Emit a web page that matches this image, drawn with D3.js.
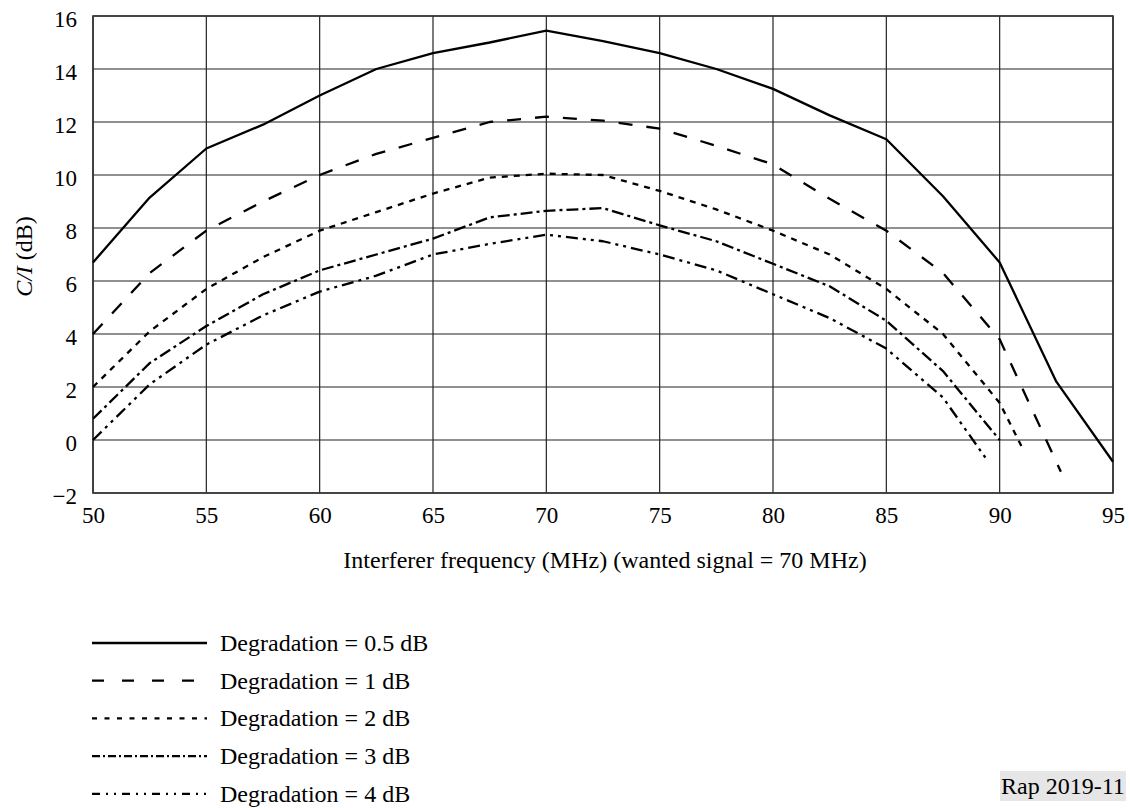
<!DOCTYPE html>
<html><head><meta charset="utf-8">
<script src="https://cdn.jsdelivr.net/npm/d3@7"></script>
<style>body{margin:0;background:#fff}svg{display:block}text{font-family:"Liberation Serif","Times New Roman",serif;fill:#000}</style>
</head><body><svg id="c" width="1130" height="808"></svg>
<script>
const xTicks = [50,55,60,65,70,75,80,85,90,95];
const yTicks = [-2,0,2,4,6,8,10,12,14,16];
const yTickLabels = ["\u22122","0","2","4","6","8","10","12","14","16"];
const freq = [50,52.5,55,57.5,60,62.5,65,67.5,70,72.5,75,77.5,80,82.5,85,87.5,90,92.5,95];
const deg05 = [6.7,9.15,11.0,11.9,13.0,14.0,14.6,15.0,15.45,15.05,14.6,14.0,13.25,12.25,11.35,9.2,6.7,2.2,-0.82];
const deg1x = [50,52.5,55,57.5,60,62.5,65,67.5,70,72.5,75,77.5,80,82.5,85,87.5,90,92.7];
const deg1 = [4.0,6.3,7.9,9.0,10.0,10.8,11.4,12.0,12.2,12.05,11.75,11.1,10.4,9.1,7.9,6.3,3.8,-1.2];
const deg2x = [50,52.5,55,57.5,60,62.5,65,67.5,70,72.5,75,77.5,80,82.5,85,87.5,90,91];
const deg2 = [2.0,4.1,5.7,6.9,7.9,8.6,9.3,9.9,10.05,10.0,9.4,8.7,7.9,7.0,5.7,4.0,1.4,-0.3];
const deg3x = [50,52.5,55,57.5,60,62.5,65,67.5,70,72.5,75,77.5,80,82.5,85,87.5,90];
const deg3 = [0.8,2.9,4.3,5.5,6.4,7.0,7.6,8.4,8.65,8.75,8.1,7.5,6.65,5.8,4.5,2.6,0.0];
const deg4x = [50,52.5,55,57.5,60,62.5,65,67.5,70,72.5,75,77.5,80,82.5,85,87.5,89.4];
const deg4 = [0.0,2.1,3.6,4.7,5.6,6.2,7.0,7.4,7.75,7.5,7.0,6.4,5.5,4.6,3.45,1.6,-0.7];
const seriesNames = ["Degradation = 0.5 dB","Degradation = 1 dB","Degradation = 2 dB","Degradation = 3 dB","Degradation = 4 dB"];

const dashes = [null,"14,14","6,6","12,4,3,4","12,5,3,5,3,5"];
const legendDashes = [null,"12,18","5,7.5","8,3,2,3","8,6,2,6,2,6"];
const series = [
  {x:freq,y:deg05},{x:deg1x,y:deg1},{x:deg2x,y:deg2},{x:deg3x,y:deg3},{x:deg4x,y:deg4}
];

const svg = d3.select("#c");
const L=93,R=1113,T=16,B=493;
const x = d3.scaleLinear().domain([50,95]).range([L,R]);
const y = d3.scaleLinear().domain([-2,16]).range([B,T]);

const g = svg.append("g");
g.selectAll(".vx").data(xTicks).enter().append("line")
 .attr("x1",d=>x(d)).attr("x2",d=>x(d)).attr("y1",T).attr("y2",B)
 .attr("stroke","#222").attr("stroke-width",1.2);
g.selectAll(".hy").data(yTicks).enter().append("line")
 .attr("y1",d=>y(d)).attr("y2",d=>y(d)).attr("x1",L).attr("x2",R)
 .attr("stroke","#222").attr("stroke-width",1.2);
g.append("rect").attr("x",L).attr("y",T).attr("width",R-L).attr("height",B-T)
 .attr("fill","none").attr("stroke","#333").attr("stroke-width",1.6);

const xa = svg.append("g").attr("transform",`translate(0,${B})`)
 .call(d3.axisBottom(x).tickValues(xTicks).tickSize(0).tickPadding(14).tickFormat(d3.format("d")));
xa.select(".domain").remove();
xa.selectAll("text").style("font-size","23px").style("font-family","Liberation Serif");
const ya = svg.append("g").attr("transform",`translate(${L},3)`)
 .call(d3.axisLeft(y).tickValues(yTicks).tickSize(0).tickPadding(16).tickFormat((d,i)=>yTickLabels[i]));
ya.select(".domain").remove();
ya.selectAll("text").style("font-size","23px").style("font-family","Liberation Serif");

const line = d3.line().x(d=>x(d[0])).y(d=>y(d[1]));
series.forEach((s,i)=>{
  const pts = s.x.map((v,j)=>[v,s.y[j]]);
  svg.append("path").attr("d",line(pts)).attr("fill","none").attr("stroke","#000")
    .attr("stroke-width",2.3).attr("stroke-dasharray",dashes[i]).attr("stroke-linejoin","round");
});

svg.append("text").attr("x",605).attr("y",568).attr("text-anchor","middle")
 .style("font-size","24px").text("Interferer frequency (MHz) (wanted signal = 70 MHz)");
const yt = svg.append("text").attr("transform",`translate(32,${(T+B)/2+2}) rotate(-90)`)
 .attr("text-anchor","middle").style("font-size","24px");
yt.append("tspan").style("font-style","italic").text("C/I");
yt.append("tspan").text(" (dB)");

const lg = svg.append("g");
seriesNames.forEach((n,i)=>{
  const yy = 643 + i*37.7;
  lg.append("line").attr("x1",92).attr("x2",207).attr("y1",yy).attr("y2",yy)
    .attr("stroke","#000").attr("stroke-width",2.3).attr("stroke-dasharray",legendDashes[i]);
  lg.append("text").attr("x",220).attr("y",yy+8).style("font-size","24px").text(n);
});

svg.append("rect").attr("x",1000).attr("y",771).attr("width",126).attr("height",30).attr("fill","#e6e6e6");
svg.append("text").attr("x",1063).attr("y",794).attr("text-anchor","middle").style("font-size","24px").text("Rap 2019-11");
</script></body></html>
